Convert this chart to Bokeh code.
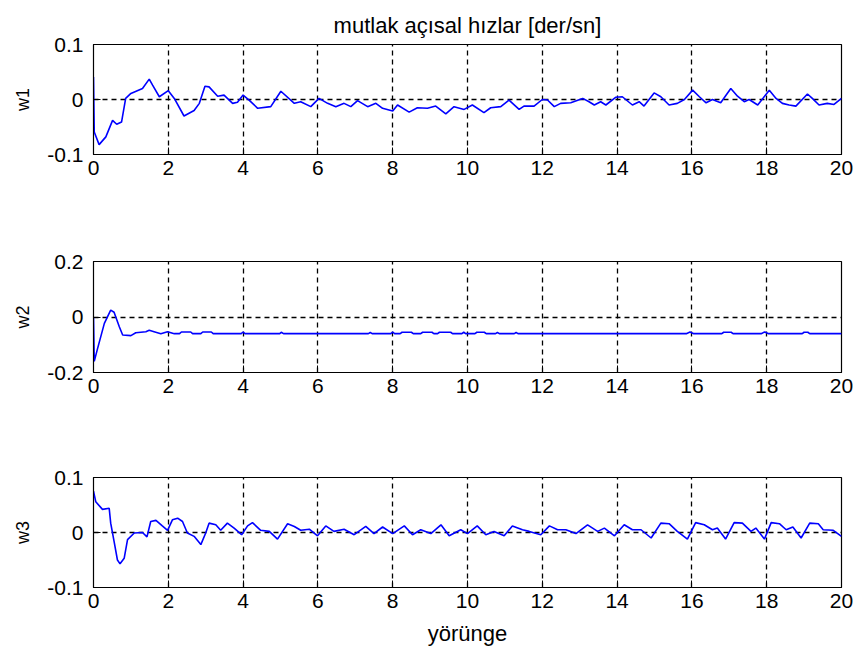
from bokeh.plotting import figure
from bokeh.layouts import column
from bokeh.models import Range1d, FixedTicker, CustomJSTickFormatter
from bokeh.embed import file_html
from bokeh.resources import INLINE

# ---------------- data ----------------
title_text = "mutlak açısal hızlar [der/sn]"
x_label = "yörünge"
x_ticks = [0, 2, 4, 6, 8, 10, 12, 14, 16, 18, 20]

w1_t = [0, 0.02, 0.15, 0.33, 0.51, 0.62, 0.75, 0.86, 1.0, 1.31, 1.49, 1.58, 1.76, 2.0,
        2.16, 2.42, 2.69, 2.83, 2.98, 3.09, 3.32, 3.49, 3.72, 3.85, 4.0, 4.16, 4.39,
        4.74, 5.01, 5.37, 5.54, 5.81, 6.03, 6.26, 6.48, 6.7, 6.88, 7.06, 7.33, 7.55,
        7.73, 8.0, 8.13, 8.44, 8.66, 8.93, 9.15, 9.42, 9.64, 9.91, 10.13, 10.44,
        10.62, 10.89, 11.11, 11.38, 11.51, 11.78, 12.0, 12.14, 12.32, 12.49, 12.76,
        13.08, 13.25, 13.39, 13.56, 13.7, 13.96, 14.14, 14.41, 14.59, 14.72, 14.99,
        15.17, 15.39, 15.61, 15.8, 16.02, 16.2, 16.38, 16.55, 16.77, 17.04, 17.22,
        17.4, 17.53, 17.76, 18.07, 18.25, 18.42, 18.6, 18.78, 19.09, 19.22, 19.4,
        19.62, 19.8, 20.0]
w1_v = [0.041, -0.059, -0.082, -0.068, -0.038, -0.045, -0.041, 0.002, 0.011, 0.02,
        0.037, 0.026, 0.005, 0.016, 0.002, -0.03, -0.02, -0.007, 0.024, 0.023, 0.006,
        0.008, -0.007, -0.005, 0.008, -0.001, -0.016, -0.013, 0.015, -0.007, -0.004,
        -0.013, 0.002, -0.007, -0.013, -0.007, -0.013, -0.002, -0.013, -0.007, -0.016,
        -0.021, -0.010, -0.023, -0.015, -0.016, -0.012, -0.026, -0.013, -0.018,
        -0.010, -0.024, -0.015, -0.013, -0.001, -0.018, -0.012, -0.012, 0.0, -0.001,
        -0.013, -0.007, -0.006, 0.002, -0.004, -0.010, -0.004, -0.010, 0.004, 0.005,
        -0.010, -0.004, -0.012, 0.012, 0.005, -0.010, -0.007, 0.0, 0.017, 0.005,
        -0.006, 0.0, -0.006, 0.020, 0.006, -0.004, 0.0, -0.010, 0.017, 0.002, -0.007,
        -0.010, -0.012, 0.010, 0.002, -0.010, -0.007, -0.009, 0.002]

w2_t = [0, 0.02, 0.11, 0.29, 0.46, 0.55, 0.69, 0.78, 1.0, 1.13, 1.4, 1.49, 1.62, 1.8,
        1.98, 2.16, 2.3, 2.35, 2.6, 2.65, 2.87, 2.92, 3.15, 3.2, 3.95, 4.0, 4.05,
        4.98, 5.02, 5.08, 7.35, 7.4, 7.45, 7.95, 8.0, 8.05, 8.2, 8.25, 8.5, 8.55,
        8.75, 8.8, 9.05, 9.1, 9.2, 9.25, 9.55, 9.6, 9.85, 9.9, 9.95, 10.2, 10.25,
        10.45, 10.5, 10.75, 10.8, 10.85, 11.25, 11.3, 11.35, 15.85, 15.95, 16.05,
        16.8, 16.85, 17.05, 17.1, 17.85, 17.95, 18.05, 18.95, 19.0, 19.1, 19.15, 20.0]
w2_v = [0.0, -0.16, -0.113, -0.023, 0.025, 0.017, -0.035, -0.065, -0.067, -0.057,
        -0.053, -0.048, -0.053, -0.060, -0.053, -0.060, -0.060, -0.054, -0.054,
        -0.060, -0.060, -0.054, -0.054, -0.060, -0.060, -0.054, -0.060, -0.060,
        -0.055, -0.060, -0.060, -0.056, -0.060, -0.060, -0.054, -0.060, -0.060,
        -0.055, -0.055, -0.060, -0.060, -0.055, -0.055, -0.060, -0.060, -0.055,
        -0.055, -0.060, -0.060, -0.055, -0.060, -0.060, -0.055, -0.055, -0.060,
        -0.060, -0.056, -0.060, -0.060, -0.056, -0.060, -0.060, -0.054, -0.060,
        -0.060, -0.055, -0.055, -0.060, -0.060, -0.054, -0.060, -0.060, -0.055,
        -0.055, -0.060, -0.060]

w3_t = [0, 0.06, 0.24, 0.42, 0.46, 0.55, 0.64, 0.71, 0.82, 0.91, 1.09, 1.31, 1.43,
        1.53, 1.67, 1.84, 1.98, 2.11, 2.25, 2.38, 2.51, 2.69, 2.87, 3.0, 3.09, 3.27,
        3.4, 3.58, 3.76, 3.96, 4.12, 4.25, 4.47, 4.7, 4.92, 5.19, 5.37, 5.54, 5.77,
        5.99, 6.21, 6.43, 6.7, 6.97, 7.28, 7.5, 7.73, 8.0, 8.31, 8.53, 8.75, 9.02,
        9.29, 9.51, 9.82, 10.0, 10.26, 10.49, 10.71, 10.98, 11.2, 11.47, 11.65,
        11.96, 12.19, 12.41, 12.63, 12.9, 13.21, 13.48, 13.66, 13.93, 14.19, 14.41,
        14.64, 14.91, 15.17, 15.39, 15.61, 15.88, 16.1, 16.33, 16.55, 16.68, 16.9,
        17.13, 17.35, 17.58, 17.71, 17.94, 18.12, 18.34, 18.52, 18.7, 18.92, 19.15,
        19.38, 19.51, 19.78, 20.0]
w3_v = [0.075, 0.056, 0.042, 0.044, 0.017, -0.016, -0.050, -0.057, -0.047, -0.013,
        -0.001, 0.0, -0.008, 0.020, 0.022, 0.012, 0.004, 0.023, 0.026, 0.020, -0.001,
        -0.007, -0.022, -0.001, 0.017, 0.014, 0.004, 0.017, 0.008, -0.004, 0.012,
        0.018, 0.004, 0.002, -0.012, 0.016, 0.011, 0.004, 0.006, -0.006, 0.012,
        0.002, 0.006, -0.004, 0.011, -0.002, 0.010, -0.002, 0.012, -0.004, 0.005,
        -0.002, 0.014, -0.006, 0.005, -0.002, 0.012, -0.004, 0.002, -0.006, 0.012,
        0.005, 0.002, -0.004, 0.012, 0.005, 0.005, -0.002, 0.014, 0.002, 0.008,
        -0.006, 0.014, 0.005, 0.005, -0.010, 0.017, 0.016, 0.002, -0.012, 0.018,
        0.014, 0.005, 0.008, -0.012, 0.018, 0.017, 0.002, 0.008, -0.012, 0.018,
        0.016, 0.005, 0.010, -0.010, 0.017, 0.016, 0.005, 0.004, -0.007]

FONT = "Liberation Sans"
TICK_FS = "21px"
BIG_FS = "22px"

fmt = CustomJSTickFormatter(code="return tick == 0 ? '0' : tick.toFixed(1);")


def make(t, v, ylim, ylab, height, top, bottom, title=None, xlab=None):
    p = figure(width=854, height=height, output_backend="svg", toolbar_location=None,
               x_range=Range1d(0, 20), y_range=Range1d(-ylim, ylim),
               min_border_left=93, min_border_right=13,
               min_border_top=top, min_border_bottom=bottom,
               title=title)
    p.background_fill_color = "white"
    p.border_fill_color = "white"
    p.outline_line_color = "black"
    p.outline_line_width = 1.2
    if title is not None:
        p.title.text_font = FONT
        p.title.text_font_size = BIG_FS
        p.title.text_font_style = "normal"
        p.title.text_color = "black"
        p.title.align = "center"
        p.title.vertical_align = "top"
        p.title.standoff = 10
    p.line(t, v, line_color="#0000FF", line_width=1.6)

    xa = p.xaxis[0]
    ya = p.yaxis[0]
    xa.ticker = FixedTicker(ticks=x_ticks)
    ya.ticker = FixedTicker(ticks=[-ylim, 0, ylim])
    ya.formatter = fmt
    for ax in (xa, ya):
        ax.major_label_text_font = FONT
        ax.major_label_text_font_size = TICK_FS
        ax.major_label_text_color = "black"
        ax.major_tick_in = 7
        ax.major_tick_out = 0
        ax.minor_tick_line_color = None
        ax.axis_line_color = "black"
        ax.major_tick_line_color = "black"
        ax.axis_label_text_font = FONT
        ax.axis_label_text_font_style = "normal"
        ax.axis_label_text_color = "black"
    xa.major_label_standoff = 6
    ya.major_label_standoff = 10
    ya.axis_label = ylab
    ya.axis_label_text_font_size = "18px"
    ya.axis_label_standoff = 11
    if xlab is not None:
        xa.axis_label = xlab
        xa.axis_label_text_font_size = BIG_FS
        xa.axis_label_standoff = 10

    p.xgrid[0].ticker = xa.ticker
    p.ygrid[0].ticker = ya.ticker
    for g in (p.xgrid[0], p.ygrid[0]):
        g.grid_line_color = "black"
        g.grid_line_dash = "5 4"
        g.grid_line_width = 1.3
    return p


# page layout: frames at y 44-154, 261-372, 477-587; x 93-841
p1 = make(w1_t, w1_v, 0.1, "w1", 208, 44, 54, title=title_text)
p2 = make(w2_t, w2_v, 0.2, "w2", 220, 53, 56)
p3 = make(w3_t, w3_v, 0.1, "w3", 225, 49, 66, xlab=x_label)

layout = column(p1, p2, p3, spacing=0)
open("out.html", "w").write(file_html(layout, INLINE))
